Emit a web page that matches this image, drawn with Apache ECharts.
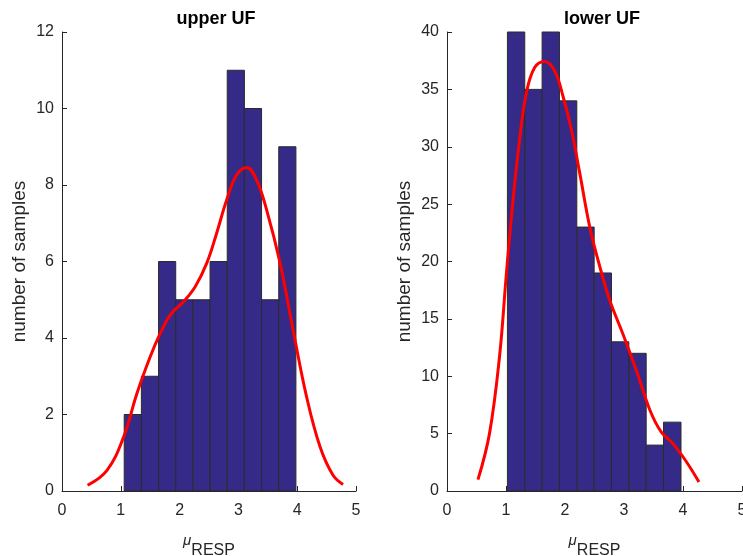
<!DOCTYPE html>
<html>
<head>
<meta charset="utf-8">
<script src="https://cdn.jsdelivr.net/npm/echarts@6/dist/echarts.min.js"></script>
<style>html,body{margin:0;padding:0;background:#fff}#c{width:743px;height:556px}</style>
</head>
<body>
<div id="c"></div>
<script>
// ---- data ----
const titles = ['upper UF', 'lower UF'];
const xTicks = [0, 1, 2, 3, 4, 5];
const upperEdges = [1.058, 1.350, 1.642, 1.934, 2.226, 2.518, 2.810, 3.102, 3.394, 3.686, 3.978];
const upperCounts = [2, 3, 6, 5, 5, 6, 11, 10, 5, 9];
const upperCurveX = [0.435, 0.765, 1.047, 1.274, 1.50, 1.67, 1.84, 2.066, 2.265, 2.46, 2.63, 2.80, 2.97, 3.14, 3.31, 3.48, 3.71, 3.93, 4.16, 4.39, 4.61, 4.78];
const upperCurveY = [0.15, 0.54, 1.41, 2.55, 3.51, 4.12, 4.60, 4.95, 5.34, 5.95, 6.74, 7.61, 8.26, 8.46, 8.13, 7.35, 5.95, 4.21, 2.46, 1.15, 0.41, 0.17];
const lowerEdges = [1.024, 1.318, 1.612, 1.906, 2.200, 2.494, 2.788, 3.082, 3.376, 3.670, 3.966];
const lowerCounts = [40, 35, 40, 34, 23, 19, 13, 12, 4, 6];
const lowerCurveX = [0.525, 0.72, 0.89, 1.007, 1.12, 1.23, 1.346, 1.486, 1.656, 1.825, 1.966, 2.108, 2.25, 2.42, 2.59, 2.76, 2.98, 3.21, 3.44, 3.63, 3.83, 4.06, 4.27];
const lowerCurveY = [0.99, 5.0, 11.7, 18.97, 25.4, 30.6, 34.7, 36.9, 37.43, 36.6, 34.4, 31.5, 27.7, 23.0, 19.55, 16.6, 13.7, 10.5, 7.04, 5.15, 4.13, 2.53, 0.79];
const upperYMax = 12, upperYStep = 2;
const lowerYMax = 40, lowerYStep = 5;

// ---- build ----
const chart = echarts.init(document.getElementById('c'), null, {renderer: 'canvas'});
const AX = '#262626';
const font = 'Liberation Sans, Arial, Helvetica, sans-serif';

function bins(edges, counts) {
  return counts.map((c, i) => [edges[i], edges[i + 1], c]);
}
function pts(xs, ys) { return xs.map((x, i) => [x, ys[i]]); }

function xAxis(idx) {
  return {
    gridIndex: idx, type: 'value', min: xTicks[0], max: xTicks[xTicks.length - 1], interval: 1,
    axisLine: {show: true, onZero: false, lineStyle: {color: AX, width: 1}},
    axisTick: {show: true, inside: true, length: 5, lineStyle: {color: AX}},
    axisLabel: {color: AX, fontSize: 16, fontFamily: font, margin: 12},
    splitLine: {show: false},
    name: '{mu|μ}{sub|RESP}', nameLocation: 'middle', nameGap: 42,
    nameTextStyle: {
      color: AX, fontFamily: font,
      rich: {
        mu: {fontSize: 15, color: AX, fontFamily: font, fontStyle: 'italic', lineHeight: 26, verticalAlign: 'top'},
        sub: {fontSize: 16, color: AX, fontFamily: font, lineHeight: 26, verticalAlign: 'bottom'}
      }
    }
  };
}
function yAxis(idx, max, step) {
  return {
    gridIndex: idx, type: 'value', min: 0, max: max, interval: step,
    axisLine: {show: true, lineStyle: {color: AX, width: 1}},
    axisTick: {show: true, inside: true, length: 5, lineStyle: {color: AX}},
    axisLabel: {color: AX, fontSize: 16, fontFamily: font, margin: 8},
    splitLine: {show: false},
    name: 'number of samples', nameLocation: 'middle', nameGap: 33, nameRotate: 90,
    nameTextStyle: {color: AX, fontSize: 19, fontFamily: font}
  };
}
function histSeries(idx, data) {
  return {
    type: 'custom', xAxisIndex: idx, yAxisIndex: idx, data: data,
    encode: {x: [0, 1], y: 2},
    renderItem: function (params, api) {
      const p0 = api.coord([api.value(0), 0]);
      const p1 = api.coord([api.value(1), api.value(2)]);
      return {
        type: 'rect',
        shape: {x: p0[0], y: p1[1], width: p1[0] - p0[0], height: p0[1] - p1[1]},
        style: {fill: '#352a87', stroke: '#2b2b2b', lineWidth: 1}
      };
    }
  };
}
function curveSeries(idx, data) {
  return {
    type: 'line', xAxisIndex: idx, yAxisIndex: idx, data: data, smooth: 0.4,
    showSymbol: false, symbol: 'none', z: 5,
    lineStyle: {color: '#ff0000', width: 3}
  };
}

chart.setOption({
  backgroundColor: '#fff',
  animation: false,
  title: [
    {text: titles[0], left: 211, top: 5, textAlign: 'center', textStyle: {fontSize: 18, fontWeight: 'bold', color: '#000', fontFamily: font}},
    {text: titles[1], left: 597, top: 5, textAlign: 'center', textStyle: {fontSize: 18, fontWeight: 'bold', color: '#000', fontFamily: font}}
  ],
  grid: [
    {left: 62, top: 32, width: 294, height: 459, outerBoundsMode: 'none', containLabel: false},
    {left: 447, top: 32, width: 295, height: 459, outerBoundsMode: 'none', containLabel: false}
  ],
  xAxis: [xAxis(0), xAxis(1)],
  yAxis: [yAxis(0, upperYMax, upperYStep), yAxis(1, lowerYMax, lowerYStep)],
  series: [
    histSeries(0, bins(upperEdges, upperCounts)),
    curveSeries(0, pts(upperCurveX, upperCurveY)),
    histSeries(1, bins(lowerEdges, lowerCounts)),
    curveSeries(1, pts(lowerCurveX, lowerCurveY))
  ]
});
</script>
</body>
</html>
